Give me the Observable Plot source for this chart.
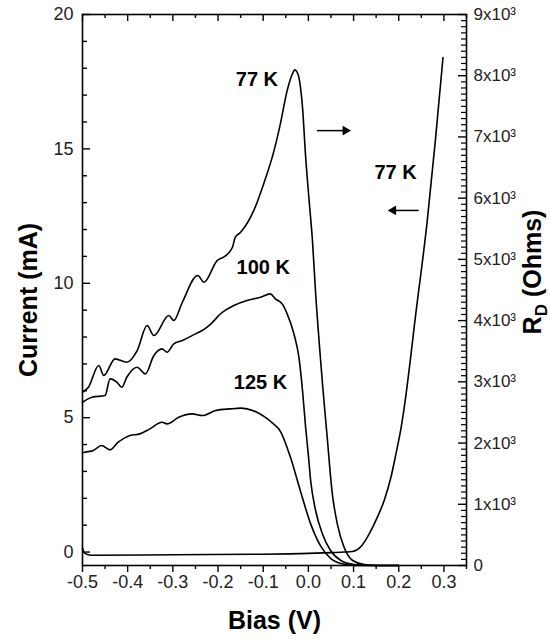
<!DOCTYPE html>
<html><head><meta charset="utf-8">
<script src="https://cdn.jsdelivr.net/npm/d3@7"></script>
<script src="https://cdn.jsdelivr.net/npm/@observablehq/plot@0.6"></script>
<style>html,body{margin:0;padding:0;background:#fff;}</style>
</head><body><div id="chart"></div>
<script>
// ---- data (Bias V, value) ----
const rd77 = [[-0.500,2830],[-0.487,2912],[-0.464,3266],[-0.453,3103],[-0.428,3375],[-0.402,3321],[-0.379,3511],[-0.357,3919],[-0.342,3756],[-0.309,4083],[-0.298,4001],[-0.279,4300],[-0.245,4736],[-0.231,4627],[-0.202,4981],[-0.185,5050],[-0.168,5198],[-0.162,5361],[-0.150,5443],[-0.121,5797],[-0.099,6233],[-0.076,6777],[-0.062,7213],[-0.047,7757],[-0.036,8020],[-0.030,8095],[-0.025,8060],[-0.021,7974],[-0.013,7484],[-0.006,6668],[0.001,6015],[0.009,5307],[0.016,4450],[0.026,3450],[0.032,2900],[0.041,2150],[0.053,1171],[0.064,681],[0.079,299],[0.098,82],[0.124,16],[0.160,0],[0.200,0]];
const rd100 = [[-0.500,2667],[-0.479,2748],[-0.450,2776],[-0.439,3048],[-0.424,2994],[-0.413,2912],[-0.402,3075],[-0.379,3239],[-0.361,3130],[-0.342,3429],[-0.324,3538],[-0.313,3484],[-0.298,3620],[-0.279,3674],[-0.250,3783],[-0.235,3838],[-0.220,3919],[-0.190,4137],[-0.165,4246],[-0.136,4328],[-0.106,4382],[-0.084,4437],[-0.073,4355],[-0.058,4273],[-0.047,4110],[-0.032,3783],[-0.021,3402],[-0.013,2858],[-0.006,2250],[0.000,1800],[0.005,1388],[0.016,898],[0.031,518],[0.049,245],[0.072,82],[0.101,16],[0.140,0],[0.200,0]];
const rd125 = [[-0.500,1840],[-0.495,1850],[-0.476,1878],[-0.458,1959],[-0.439,1889],[-0.421,2014],[-0.395,2123],[-0.373,2150],[-0.351,2232],[-0.324,2340],[-0.313,2314],[-0.287,2422],[-0.257,2477],[-0.235,2449],[-0.205,2531],[-0.173,2558],[-0.150,2570],[-0.136,2558],[-0.113,2500],[-0.095,2420],[-0.080,2330],[-0.061,2180],[-0.039,1750],[-0.017,1200],[0.005,680],[0.027,320],[0.049,115],[0.072,33],[0.105,0],[0.200,0]];
const current77 = [[-0.500,0.15],[-0.495,-0.05],[-0.480,-0.12],[-0.300,-0.10],[-0.100,-0.08],[0.000,-0.05],[0.050,-0.02],[0.080,0.00],[0.098,0.02],[0.116,0.20],[0.135,0.69],[0.153,1.31],[0.168,1.93],[0.183,2.80],[0.194,3.67],[0.205,4.60],[0.214,5.60],[0.238,8.90],[0.263,12.30],[0.281,15.30],[0.298,18.40]];

const tempLabels = [
  {v:-0.114, i:17.58, label:"77 K"},
  {v:0.193, i:14.13, label:"77 K"},
  {v:-0.100, i:10.57, label:"100 K"},
  {v:-0.106, i:6.32, label:"125 K"}
];
const arrowData = [
  {v1:0.019, v2:0.082, i:15.68, dir:90},
  {v1:0.244, v2:0.188, i:12.71, dir:-90}
];

const xMajor = [-0.5,-0.4,-0.3,-0.2,-0.1,0,0.1,0.2,0.3];
const xMinor = [-0.45,-0.35,-0.25,-0.15,-0.05,0.05,0.15,0.25,0.35];
const yMajor = [0,5,10,15,20];
const yMinor = [1,2,3,4,6,7,8,9,11,12,13,14,16,17,18,19];
const rMajor = [0,1000,2000,3000,4000,5000,6000,7000,8000,9000];
const rMinor = d3.range(100, 9000, 100).filter(r => r % 1000 !== 0);

const xTitle = "Bias (V)";
const yTitle = "Current (mA)";
const y2Title = ["R", "D", " (Ohms)"];

// domains; resistance (Ohms) is mapped onto the current axis units
const xMin = -0.5, xMax = 0.35;
const rMax = 9000, iMin = -0.5, iMax = 20;
const toY = r => iMin + r / rMax * (iMax - iMin);
const fromY = y => Math.round((y - iMin) / (iMax - iMin) * rMax);
const fmtR = d => { const r = fromY(d); return r === 0 ? "0" : (r / 1000) + "x10\u00B3"; };

const W = 550, H = 640, mL = 82, mR = 84, mT = 14, mB = 75;
const fw = W - mL - mR, fh = H - mT - mB;
// tick lengths expressed through the scales' spans
const px2x = p => p / fw * (xMax - xMin);
const px2y = p => p / fh * (iMax - iMin);

const lineOpts = {curve: "monotone-x", stroke: "#000", strokeWidth: 1.6};
const tickSt = {stroke: "#000", strokeWidth: 1.4};

const plot = Plot.plot({
  width: W, height: H,
  marginLeft: mL, marginRight: mR, marginTop: mT, marginBottom: mB,
  x: {domain: [xMin, xMax]},
  y: {domain: [iMin, iMax]},
  style: {fontFamily: "'Liberation Sans', Arial, sans-serif", fontSize: "18px", color: "#000", background: "#fff"},
  marks: [
    // bottom axis (outward ticks)
    Plot.axisX(xMajor, {anchor: "bottom", tickSize: 7, tickPadding: 3, tickFormat: d => d.toFixed(1), fontSize: 18, fill: "#222", stroke: "#000", strokeWidth: 1.4, label: null}),
    Plot.axisX(xMinor, {anchor: "bottom", tickSize: 4, fill: "none", stroke: "#000", strokeWidth: 1.4, label: null}),
    // top axis (inward ticks)
    Plot.ruleX(xMajor, {x: d => d, y1: iMax, y2: iMax - px2y(7), ...tickSt}),
    Plot.ruleX(xMinor, {x: d => d, y1: iMax, y2: iMax - px2y(4), ...tickSt}),
    // left axis (inward ticks)
    Plot.ruleY(yMajor, {y: d => d, x1: xMin, x2: xMin + px2x(8), ...tickSt}),
    Plot.ruleY(yMinor, {y: d => d, x1: xMin, x2: xMin + px2x(5), ...tickSt}),
    Plot.axisY(yMajor, {anchor: "left", tickSize: 0, tickPadding: 9, fontSize: 18, fill: "#222", label: null}),
    // right axis (resistance, inward ticks)
    Plot.ruleY(rMajor.map(toY), {y: d => d, x1: xMax, x2: xMax - px2x(8), ...tickSt}),
    Plot.ruleY(rMinor.map(toY), {y: d => d, x1: xMax, x2: xMax - px2x(5), stroke: "#000", strokeWidth: 1.2}),
    Plot.axisY(rMajor.map(toY), {anchor: "right", tickSize: 0, tickPadding: 7, tickFormat: fmtR, fontSize: 17, fill: "#222", label: null}),
    Plot.frame({stroke: "#000", strokeWidth: 1.6}),
    // curves
    Plot.line(rd77, {x: d => d[0], y: d => toY(d[1]), ...lineOpts}),
    Plot.line(rd100, {x: d => d[0], y: d => toY(d[1]), ...lineOpts}),
    Plot.line(rd125, {x: d => d[0], y: d => toY(d[1]), ...lineOpts}),
    Plot.line(current77, {x: d => d[0], y: d => d[1], ...lineOpts}),
    // annotations
    Plot.text(tempLabels, {x: "v", y: "i", text: "label", fontSize: 20, fontWeight: "bold", fill: "#000"}),
    Plot.link(arrowData, {x1: "v1", y1: "i", x2: "v2", y2: "i", stroke: "#000", strokeWidth: 1.5}),
    Plot.dot(arrowData, {x: "v2", y: "i", symbol: "triangle", r: 3.6, rotate: "dir", fill: "#000", stroke: "none"}),
    // axis titles
    Plot.text([xTitle], {frameAnchor: "bottom", dy: 55, textAnchor: "middle", lineAnchor: "middle", fontSize: 25, fontWeight: "bold", fill: "#000"}),
    Plot.text([yTitle], {frameAnchor: "left", dx: -54, dy: 10, rotate: -90, textAnchor: "middle", lineAnchor: "middle", fontSize: 25, fontWeight: "bold", fill: "#000"}),
    Plot.text([y2Title.join("")], {frameAnchor: "right", dx: 66, dy: -18, rotate: -90, textAnchor: "middle", lineAnchor: "middle", fontSize: 25, fontWeight: "bold", fill: "#000"})
  ]
});

// subscript for R_D
plot.querySelectorAll("text").forEach(t => {
  if (t.textContent === y2Title.join("")) {
    t.textContent = "";
    const ns = "http://www.w3.org/2000/svg";
    const a = document.createElementNS(ns, "tspan"); a.textContent = y2Title[0];
    const b = document.createElementNS(ns, "tspan"); b.textContent = y2Title[1]; b.setAttribute("dy", "6"); b.setAttribute("font-size", "17");
    const c = document.createElementNS(ns, "tspan"); c.textContent = y2Title[2]; c.setAttribute("dy", "-6");
    t.append(a, b, c);
  }
});

document.getElementById("chart").append(plot);
</script>
</body></html>
